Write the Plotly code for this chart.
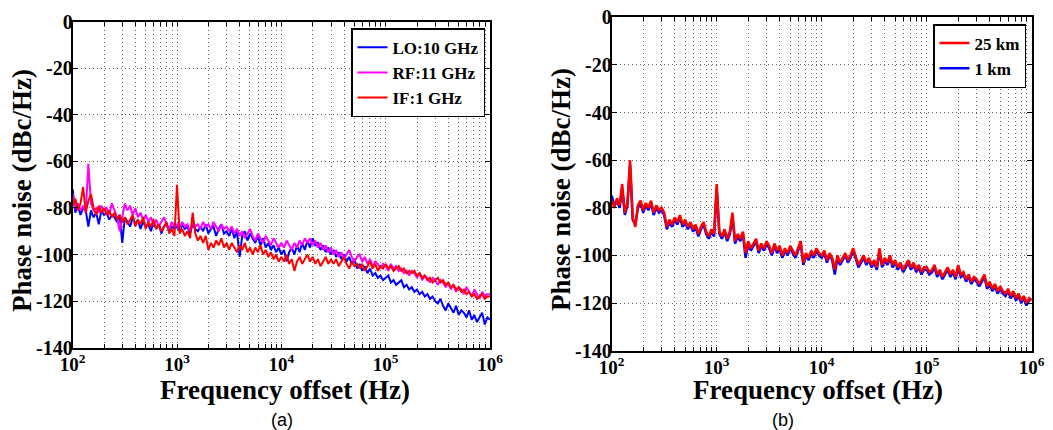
import numpy as np
import plotly.graph_objects as go

# Frequency sampling grid (Hz): 161 log-spaced offsets from 1e2 to 1e6
FREQ = np.logspace(2, 6, 161)

# Panel (a)
LO_10GHz = [
    -72, -82, -79, -83, -80, -81, -88, -81, -84, -82,
    -87, -81, -83, -82, -85, -83, -84, -86, -83, -95,
    -84, -86, -88, -84, -87, -85, -89, -86, -88, -87,
    -90, -86, -89, -87, -91, -88, -87, -90, -88, -89,
    -88, -90, -87, -89, -88, -91, -87, -89, -90, -88,
    -90, -87, -91, -89, -88, -92, -89, -87, -91, -90,
    -92, -89, -93, -90, -101, -92, -90, -94, -91, -93,
    -95, -92, -96, -93, -97, -95, -98, -96, -99, -97,
    -100, -98, -103, -99, -97, -100, -96, -99, -95, -98,
    -94, -97, -93, -96, -95, -98, -96, -99, -97, -100,
    -98, -101, -99, -102, -100, -103, -101, -104, -102, -106,
    -104, -107, -105, -108, -106, -109, -108, -110, -109, -111,
    -110, -109, -112, -111, -113, -112, -111, -114, -113, -115,
    -114, -116, -115, -117, -116, -118, -117, -119, -118, -120,
    -121, -119, -122, -124, -121, -123, -125, -122, -126, -124,
    -125, -127, -124, -128, -126, -129, -127, -125, -130, -127,
    -128,
]
RF_11GHz = [
    -74, -80, -78, -81, -79, -82, -61, -78, -81, -80,
    -82, -79, -81, -80, -83, -78, -81, -84, -90, -83,
    -78, -81, -79, -83, -80, -84, -82, -85, -83, -86,
    -84, -87, -85, -88, -86, -84, -87, -89, -86, -88,
    -87, -89, -86, -88, -87, -90, -86, -88, -87, -89,
    -86, -88, -87, -89, -86, -88, -90, -87, -89, -88,
    -90, -88, -91, -89, -92, -90, -93, -91, -89, -92,
    -94, -91, -93, -95, -92, -94, -96, -93, -95, -97,
    -95, -97, -94, -96, -98, -95, -97, -94, -96, -93,
    -95, -93, -96, -94, -97, -95, -98, -96, -99, -97,
    -100, -98, -101, -99, -102, -100, -98, -101, -103, -101,
    -100, -103, -101, -104, -102, -105, -103, -104, -106, -104,
    -105, -107, -104, -106, -105, -107, -106, -108, -107, -109,
    -107, -108, -110, -108, -111, -109, -110, -112, -110, -111,
    -113, -111, -112, -114, -112, -115, -113, -116, -114, -115,
    -117, -114, -116, -118, -115, -117, -119, -116, -118, -117,
    -117,
]
IF_1GHz = [
    -79, -76, -81, -78, -71, -82, -77, -74, -80, -83,
    -79, -82, -80, -83, -81, -84, -82, -85, -83, -86,
    -84, -87, -85, -83, -88, -85, -87, -84, -89, -86,
    -88, -85, -89, -87, -90, -88, -86, -91, -89, -92,
    -70, -91, -89, -92, -90, -93, -82, -91, -94, -92,
    -95, -92, -98, -95, -97, -94, -96, -93, -97, -95,
    -98, -95, -97, -99, -96, -98, -95, -99, -97, -100,
    -97, -99, -96, -100, -98, -101, -99, -102, -100, -103,
    -101, -103, -100, -104, -102, -107, -103, -101, -104, -102,
    -100, -103, -101, -104, -102, -105, -103, -101, -104, -102,
    -104, -102, -105, -103, -101, -104, -106, -103, -105, -104,
    -106, -104, -107, -105, -103, -106, -104, -107, -105, -106,
    -104, -106, -105, -107, -106, -105, -107, -106, -108, -107,
    -108, -107, -109, -108, -110, -109, -111, -110, -112, -111,
    -110, -112, -111, -113, -112, -114, -113, -115, -114, -116,
    -115, -117, -116, -118, -117, -119, -118, -117, -119, -118,
    -118,
]

# Panel (b)
KM25 = [
    -77, -80, -76, -79, -70, -82, -78, -60, -84, -88,
    -79, -77, -81, -78, -80, -77, -82, -79, -81, -80,
    -82, -88, -85, -87, -84, -86, -83, -87, -85, -88,
    -86, -89, -87, -91, -88, -86, -90, -92, -89, -91,
    -70, -90, -92, -89, -93, -90, -82, -94, -91, -93,
    -90, -99, -94, -97, -95, -93, -98, -95, -97, -94,
    -96, -99, -95, -98, -96, -100, -97, -99, -96, -98,
    -100, -97, -94, -103, -99, -101, -98, -100, -97, -99,
    -100, -98, -102, -99, -101, -106, -100, -103, -101, -99,
    -102, -100, -97, -101, -104, -102, -100, -103, -101, -104,
    -102, -105, -97, -104, -101, -103, -100, -104, -102, -105,
    -103, -106, -104, -102, -105, -103, -106, -104, -107, -105,
    -105, -107, -106, -104, -108, -106, -109, -107, -105, -108,
    -106, -109, -104, -108, -107, -110, -108, -111, -109, -110,
    -112, -110, -108, -113, -111, -114, -112, -115, -113, -115,
    -116, -114, -117, -115, -118, -116, -119, -117, -120, -118,
    -119,
]
KM1 = [
    -75, -79, -77, -80, -72, -83, -79, -62, -85, -87,
    -80, -78, -82, -79, -81, -78, -83, -80, -82, -81,
    -83, -89, -86, -88, -85, -87, -84, -88, -86, -89,
    -87, -90, -88, -92, -89, -87, -91, -93, -90, -92,
    -72, -91, -93, -90, -94, -91, -84, -95, -92, -94,
    -91, -101, -95, -98, -96, -94, -99, -96, -98, -95,
    -97, -100, -96, -99, -97, -101, -98, -100, -97, -99,
    -101, -98, -95, -104, -100, -102, -99, -101, -98, -100,
    -101, -99, -103, -100, -102, -108, -101, -104, -102, -100,
    -103, -101, -98, -102, -105, -103, -101, -104, -102, -105,
    -103, -106, -98, -105, -102, -104, -101, -105, -103, -106,
    -104, -107, -105, -103, -106, -104, -107, -105, -108, -106,
    -106, -108, -107, -105, -109, -107, -110, -108, -106, -109,
    -107, -110, -105, -109, -108, -111, -109, -112, -110, -111,
    -113, -111, -109, -114, -112, -115, -113, -116, -114, -116,
    -117, -115, -118, -116, -119, -117, -120, -118, -121, -119,
    -118,
]

X_TICKVALS = [m * 10 ** e for e in range(2, 6) for m in range(1, 10)] + [10 ** 6]
X_TICKTEXT = [f"<b>10<sup>{e}</sup></b>" if m == 1 else "" for e in range(2, 6) for m in range(1, 10)] + ["<b>10<sup>6</sup></b>"]
Y_TICKVALS = [-140, -120, -100, -80, -60, -40, -20, 0]
Y_TICKTEXT = ["<b>-140</b>", "<b>-120</b>", "<b>-100</b>", "<b>-80</b>", "<b>-60</b>", "<b>-40</b>", "<b>-20</b>", "<b>0</b>"]

X_TITLE = "Frequency offset (Hz)"
Y_TITLE = "Phase noise (dBc/Hz)"

SERIF = "Liberation Serif, Times New Roman, serif"
GRID = dict(showgrid=True, gridcolor="#666666", griddash="1px,3px", gridwidth=1)

# The page body adds an 8 px offset; the figure is sized to fit the window.
W, H, OFF = 1045, 422, 8

def px_x(v):
    return (v - OFF) / W

def px_y(v):
    return 1 - (v - OFF) / H

fig = go.Figure()
fig.add_trace(go.Scatter(x=FREQ, y=LO_10GHz, name="LO:10 GHz", mode="lines",
                         line=dict(color="#0000ff", width=2), xaxis="x", yaxis="y", legend="legend"))
fig.add_trace(go.Scatter(x=FREQ, y=RF_11GHz, name="RF:11 GHz", mode="lines",
                         line=dict(color="#ff00ff", width=2), xaxis="x", yaxis="y", legend="legend"))
fig.add_trace(go.Scatter(x=FREQ, y=IF_1GHz, name="IF:1 GHz", mode="lines",
                         line=dict(color="#ff0000", width=2), xaxis="x", yaxis="y", legend="legend"))
fig.add_trace(go.Scatter(x=FREQ, y=KM1, name="1 km", mode="lines", legendrank=2,
                         line=dict(color="#0000ff", width=2.5), xaxis="x2", yaxis="y2", legend="legend2"))
fig.add_trace(go.Scatter(x=FREQ, y=KM25, name="25 km", mode="lines", legendrank=1,
                         line=dict(color="#ff0000", width=2.5), xaxis="x2", yaxis="y2", legend="legend2"))

def xaxis_cfg(domain, anchor):
    return dict(
        type="log", range=[2, 6], domain=domain, anchor=anchor, automargin=False,
        tickmode="array", tickvals=X_TICKVALS, ticktext=X_TICKTEXT,
        **GRID,
        showline=True, linecolor="black", linewidth=2, mirror="allticks",
        ticks="inside", ticklen=4, tickcolor="black",
        tickfont=dict(family=SERIF, size=19, color="black"),
        ticklabelstandoff=-2, ticklabeloverflow="allow",
        zeroline=False,
    )

def yaxis_cfg(domain, anchor):
    return dict(
        range=[-140, 0], domain=domain, anchor=anchor, automargin=False,
        tickmode="array", tickvals=Y_TICKVALS, ticktext=Y_TICKTEXT,
        **GRID,
        showline=True, linecolor="black", linewidth=2, mirror="allticks",
        ticks="inside", ticklen=5, tickcolor="black",
        tickfont=dict(family=SERIF, size=20, color="black"),
        ticklabelstandoff=-6, ticklabeloverflow="allow",
        zeroline=False,
    )

legend_common = dict(
    bgcolor="white", bordercolor="black", borderwidth=1.5,
    font=dict(family=SERIF, size=17, color="black", weight="bold"),
    xanchor="right", yanchor="top", tracegroupgap=0, itemwidth=30,
)

title_font = dict(family=SERIF, size=27, color="black", weight="bold")
label_font = dict(family="Liberation Sans, Arial", size=18, color="black")

def ann(text, xpx, ypx, font, angle=0):
    return dict(text=text, x=px_x(xpx), y=px_y(ypx), xref="paper", yref="paper",
                xanchor="center", yanchor="middle", showarrow=False, textangle=angle, font=font)

fig.update_layout(
    width=W, height=H,
    margin=dict(l=0, r=0, t=0, b=0, autoexpand=False),
    paper_bgcolor="white", plot_bgcolor="white",
    showlegend=True,
    xaxis=xaxis_cfg([px_x(72.7), px_x(490)], "y"),
    yaxis=yaxis_cfg([px_y(347.7), px_y(21.7)], "x"),
    xaxis2=xaxis_cfg([px_x(611.7), px_x(1031.7)], "y2"),
    yaxis2=yaxis_cfg([px_y(350.7), px_y(17.3)], "x2"),
    legend=dict(x=px_x(485), y=px_y(28.3), **legend_common),
    legend2=dict(x=px_x(1026), y=px_y(24), **legend_common),
    annotations=[
        ann(X_TITLE, 285, 390, title_font),
        ann(X_TITLE, 818, 390, title_font),
        ann(Y_TITLE, 22, 191, title_font, -90),
        ann(Y_TITLE, 561, 190, title_font, -90),
        ann("(a)", 282, 420, label_font),
        ann("(b)", 783, 420, label_font),
    ],
)

fig.write_html("out.html")
